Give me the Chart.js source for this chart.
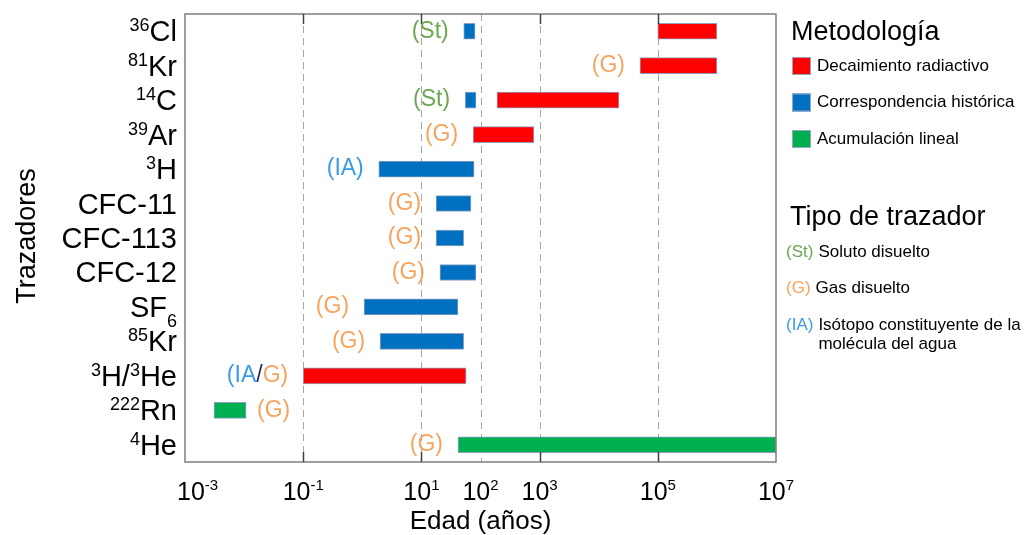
<!DOCTYPE html>
<html>
<head>
<meta charset="utf-8">
<script src="https://cdn.jsdelivr.net/npm/chart.js@4"></script>
<style>
  body { margin: 0; background: #fff; }
  #wrap { width: 1027px; height: 535px; position: relative; }
</style>
</head>
<body>
<div id="wrap"><canvas id="tracerChart"></canvas></div>
<script>
// Tracer rows (^{..} superscript, _{..} subscript)
const categories = ['^{36}Cl', '^{81}Kr', '^{14}C', '^{39}Ar', '^{3}H', 'CFC-11', 'CFC-113', 'CFC-12', 'SF_{6}', '^{85}Kr', '^{3}H/^{3}He', '^{222}Rn', '^{4}He'];

// Age ranges in years [from, to]
const decaimiento = [[1e5, 1e6], [5e4, 1e6], [190, 22000], [75, 800], null, null, null, null, null, null, [0.1, 57], null, null];
const historica = [[52, 81], null, [55, 84], null, [1.9, 78], [17.7, 69], [17.7, 52], [20.6, 84], [1.07, 41.6], [2.0, 52], null, null, null];
const acumulacion = [null, null, null, null, null, null, null, null, null, null, null, [0.0031, 0.0108], [41.6, 1e7]];

// Tracer type tag for each row and which side of the bar it sits
const tracerType = ['St', 'G', 'St', 'G', 'IA', 'G', 'G', 'G', 'G', 'G', 'IA/G', 'G', 'G'];
const tracerSide = ['left', 'left', 'left', 'left', 'left', 'left', 'left', 'left', 'left', 'left', 'left', 'right', 'left'];

// x axis
const xTicks = [1e-3, 1e-1, 1e1, 1e2, 1e3, 1e5, 1e7];
const xTickLabels = ['10^{-3}', '10^{-1}', '10^{1}', '10^{2}', '10^{3}', '10^{5}', '10^{7}'];
const gridValues = [1e-1, 1e1, 1e2, 1e3, 1e5];
const tickMarkValues = [1e-1, 1e1, 1e3, 1e5];

// legend text
const metodologias = ['Decaimiento radiactivo', 'Correspondencia histórica', 'Acumulación lineal'];
const metColors = ['#FF0000', '#0070C0', '#00B050'];
const tipos = ['St', 'G', 'IA'];
const tipoTexts = [['Soluto disuelto'], ['Gas disuelto'], ['Isótopo constituyente de la', 'molécula del agua']];

const tagColors = { St: '#6AA84F', G: '#F7A35C', IA: '#3A9BE8', '/': '#1F2A5C' };
const FONT = 'Arial, "Liberation Sans", sans-serif';

// draw text with ^{sup} and _{sub}; returns width
function richText(ctx, str, x, y, align, size, supSize, shift, color, measureOnly) {
  const parts = [];
  const re = /\^\{([^}]*)\}|_\{([^}]*)\}|([^^_]+)/g;
  let m;
  while ((m = re.exec(str)) !== null) {
    if (m[1] !== undefined) parts.push({ t: m[1], s: supSize, dy: -shift });
    else if (m[2] !== undefined) parts.push({ t: m[2], s: supSize, dy: shift });
    else parts.push({ t: m[3], s: size, dy: 0 });
  }
  let w = 0;
  parts.forEach(p => { ctx.font = p.s + 'px ' + FONT; p.w = ctx.measureText(p.t).width; w += p.w; });
  if (measureOnly) return w;
  let cx = align === 'right' ? x - w : align === 'center' ? x - w / 2 : x;
  ctx.fillStyle = color;
  ctx.textAlign = 'left';
  ctx.textBaseline = 'alphabetic';
  parts.forEach(p => { ctx.font = p.s + 'px ' + FONT; ctx.fillText(p.t, cx, y + p.dy); cx += p.w; });
  return w;
}

// "(IA/G)" style tag with coloured pieces
function drawTag(ctx, tag, x, y, align, size) {
  const pieces = [];
  const names = tag.split('/');
  names.forEach((n, i) => {
    let t = n;
    if (i === 0) t = '(' + t;
    if (i === names.length - 1) t = t + ')';
    pieces.push({ t: t, c: tagColors[n] });
    if (i < names.length - 1) pieces.push({ t: '/', c: tagColors['/'] });
  });
  ctx.font = size + 'px ' + FONT;
  let w = 0;
  pieces.forEach(p => { p.w = ctx.measureText(p.t).width; w += p.w; });
  let cx = align === 'right' ? x - w : x;
  ctx.textAlign = 'left';
  ctx.textBaseline = 'middle';
  pieces.forEach(p => { ctx.fillStyle = p.c; ctx.fillText(p.t, cx, y); cx += p.w; });
  return w;
}

const framePlugin = {
  id: 'frame',
  beforeDatasetsDraw(chart) {
    const { ctx, chartArea: a, scales: { x } } = chart;
    ctx.save();
    ctx.strokeStyle = '#A6A6A6';
    ctx.lineWidth = 1;
    ctx.setLineDash([7, 5]);
    gridValues.forEach(v => {
      const px = Math.round(x.getPixelForValue(v)) + 0.5;
      ctx.beginPath(); ctx.moveTo(px, a.top); ctx.lineTo(px, a.bottom); ctx.stroke();
    });
    ctx.restore();
  },
  afterDatasetsDraw(chart) {
    const { ctx, chartArea: a, scales: { x, y } } = chart;
    ctx.save();
    // box
    ctx.strokeStyle = '#7F7F7F';
    ctx.lineWidth = 1.5;
    ctx.strokeRect(a.left, a.top, a.right - a.left, a.bottom - a.top);
    // inner tick marks
    ctx.strokeStyle = '#404040';
    ctx.lineWidth = 1.5;
    tickMarkValues.forEach(v => {
      const px = Math.round(x.getPixelForValue(v)) + 0.5;
      ctx.beginPath(); ctx.moveTo(px, a.top); ctx.lineTo(px, a.top + 10); ctx.stroke();
      ctx.beginPath(); ctx.moveTo(px, a.bottom); ctx.lineTo(px, a.bottom - 10); ctx.stroke();
    });
    // x tick labels
    xTicks.forEach((v, i) => {
      let px = x.getPixelForValue(v);
      const w = richText(ctx, xTickLabels[i], 0, 0, 'left', 25, 15, 10, '#000', true);
      let left = px - w / 2;
      if (i === 0) left = px - 8;
      richText(ctx, xTickLabels[i], left, a.bottom + 38, 'left', 25, 15, 10, '#000');
    });
    // axis titles
    ctx.fillStyle = '#000';
    ctx.font = '26px ' + FONT;
    ctx.textAlign = 'center';
    ctx.textBaseline = 'middle';
    ctx.fillText('Edad (años)', (a.left + a.right) / 2, 522);
    ctx.save();
    ctx.translate(28, 236);
    ctx.rotate(-Math.PI / 2);
    ctx.font = '27px ' + FONT;
    ctx.fillText('Trazadores', 0, 0);
    ctx.restore();
    // y labels and tracer tags
    categories.forEach((c, i) => {
      const py = y.getPixelForValue(i);
      richText(ctx, c, 177, py + 10, 'right', 29, 18, 10, '#000');
      const ranges = [decaimiento[i], historica[i], acumulacion[i]].filter(r => r);
      if (tracerSide[i] === 'left') {
        const start = Math.min(...ranges.map(r => r[0]));
        drawTag(ctx, tracerType[i], x.getPixelForValue(start) - 15, py, 'right', 23);
      } else {
        const end = Math.max(...ranges.map(r => r[1]));
        drawTag(ctx, tracerType[i], x.getPixelForValue(end) + 11, py, 'left', 23);
      }
    });
    // legend
    ctx.fillStyle = '#000';
    ctx.font = '27px ' + FONT;
    ctx.textAlign = 'left';
    ctx.textBaseline = 'alphabetic';
    ctx.fillText('Metodología', 791, 40);
    metodologias.forEach((t, i) => {
      const cy = 66 + i * 36.5;
      ctx.fillStyle = metColors[i];
      ctx.fillRect(792, cy - 9, 19, 18);
      ctx.strokeStyle = '#9AA6C0';
      ctx.lineWidth = 1;
      ctx.strokeRect(792.5, cy - 8.5, 18, 17);
      ctx.fillStyle = '#000';
      ctx.font = '17px ' + FONT;
      ctx.textBaseline = 'middle';
      ctx.fillText(t, 817, cy);
    });
    ctx.font = '27px ' + FONT;
    ctx.textBaseline = 'alphabetic';
    ctx.fillText('Tipo de trazador', 790, 225);
    tipos.forEach((t, i) => {
      const cy = 252 + i * 36.5;
      const w = drawTag(ctx, t, 786, cy, 'left', 17);
      ctx.fillStyle = '#000';
      ctx.font = '17px ' + FONT;
      ctx.textBaseline = 'middle';
      tipoTexts[i].forEach((line, j) => ctx.fillText(line, 786 + w + 5, cy + j * 19));
    });
    ctx.restore();
  }
};

const ctx = document.getElementById('tracerChart').getContext('2d');
const barStyle = { grouped: false, barThickness: 16, borderWidth: 1, borderColor: '#8FA0C4', borderSkipped: false };

const tracerChart = new Chart(ctx, {
  type: 'bar',
  data: {
    labels: categories,
    datasets: [
      Object.assign({ label: metodologias[0], data: decaimiento, backgroundColor: metColors[0] }, barStyle),
      Object.assign({ label: metodologias[1], data: historica, backgroundColor: metColors[1] }, barStyle),
      Object.assign({ label: metodologias[2], data: acumulacion, backgroundColor: metColors[2] }, barStyle)
    ]
  },
  options: {
    indexAxis: 'y',
    responsive: true,
    maintainAspectRatio: false,
    animation: false,
    layout: { padding: { left: 0, right: 251, top: 14, bottom: 1 } },
    scales: {
      x: {
        type: 'logarithmic',
        min: 1e-3,
        max: 1e7,
        grid: { display: false },
        border: { display: false },
        ticks: { display: false },
        afterFit: s => { s.height = 72; }
      },
      y: {
        type: 'category',
        offset: true,
        grid: { display: false },
        border: { display: false },
        ticks: { display: false },
        afterFit: s => { s.width = 185; }
      }
    },
    plugins: {
      legend: { display: false },
      tooltip: { enabled: false }
    }
  },
  plugins: [framePlugin]
});
</script>
</body>
</html>
